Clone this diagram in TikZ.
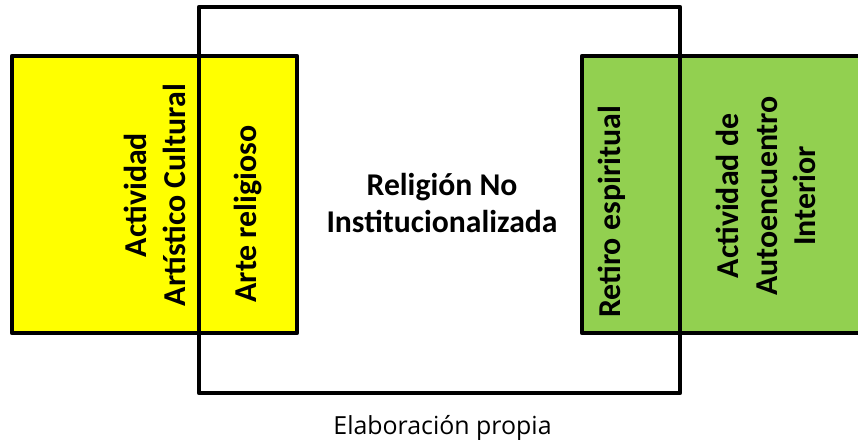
\documentclass[tikz,border=0pt]{standalone}
\usepackage{fontspec}
\setmainfont{Carlito}
\newfontfamily\pie{Open Sans}
\definecolor{amarillo}{HTML}{FFFF00}
\definecolor{verde}{HTML}{92D050}
\tikzset{
  caja/.style={line width=4.5bp, line join=round},
  rotulo/.style={font=\bfseries\fontsize{32}{39}\selectfont, align=center, rotate=90, inner sep=0pt},
  central/.style={font=\bfseries\fontsize{31.8}{37}\selectfont, align=center, inner sep=0pt},
}
\begin{document}
\begin{tikzpicture}[x=1bp,y=-1bp]
\useasboundingbox (0,0) rectangle (858,441);
\clip (0,0) rectangle (858,441);
\draw[caja,fill=amarillo] (12,56) rectangle (297,333);
\draw[caja,fill=verde] (582,56) rectangle (950,333);
\draw[caja] (199,7) rectangle (680,393);
\node[rotulo] (artistico) at (155,195) {Actividad\\Artístico Cultural};
\node[rotulo] (arte) at (248,214) {Arte religioso};
\node[central] (religion) at (442,203) {Religión No\\Institucionalizada};
\node[rotulo] (retiro) at (612,212) {Retiro espiritual};
\node[rotulo] (autoencuentro) at (766,196) {Actividad de\\Autoencuentro\\Interior};
\node[font=\pie\fontsize{25}{30}\selectfont, anchor=base, inner sep=0pt] (fuente) at (442.5,434) {Elaboración propia};
\end{tikzpicture}
\end{document}
